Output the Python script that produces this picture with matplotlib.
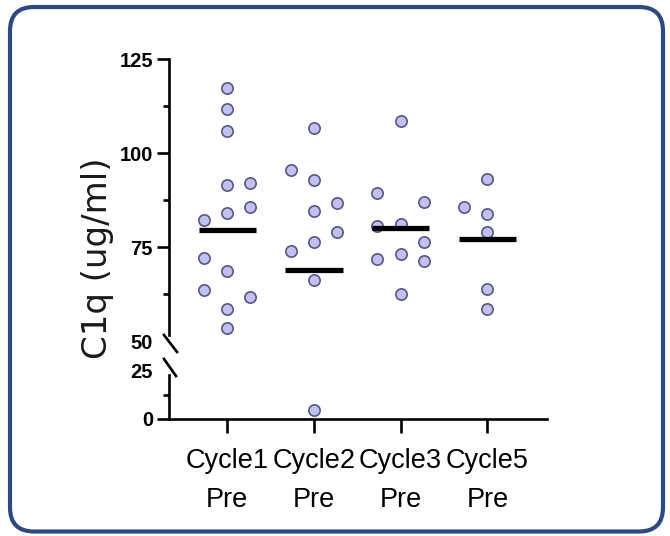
import matplotlib
matplotlib.use("Agg")
import matplotlib.pyplot as plt
import numpy as np
from matplotlib.patches import FancyBboxPatch
from matplotlib.lines import Line2D
from matplotlib.transforms import IdentityTransform

# ---------------- data ----------------
categories = ["Cycle1\nPre", "Cycle2\nPre", "Cycle3\nPre", "Cycle5\nPre"]

cycle1_values = [117.4, 111.7, 105.9, 91.6, 92.0, 85.8, 84.0, 82.3, 72.1, 68.7, 63.6, 61.9, 58.5, 53.5]
cycle1_cols = [0, 0, 0, 0, 1, 1, 0, -1, -1, 0, -1, 1, 0, 0]

cycle2_values = [106.8, 95.6, 92.9, 86.7, 84.7, 79.1, 76.3, 74.1, 66.3, 4.5]
cycle2_cols = [0, -1, 0, 1, 0, 1, 0, -1, 0, 0]

cycle3_values = [108.7, 89.4, 87.0, 80.7, 81.2, 76.3, 71.9, 73.2, 71.4, 62.6]
cycle3_cols = [0, -1, 1, -1, 0, 1, -1, 0, 1, 0]

cycle5_values = [93.2, 85.8, 83.9, 79.0, 63.8, 58.5]
cycle5_cols = [0, -1, 0, 0, 0, 0]

center_lines = [79.6, 69.0, 80.2, 77.2]

upper_ticks = [50, 75, 100, 125]
upper_minor = [62.5, 87.5, 112.5]
lower_ticks = [0, 25]
lower_minor = [12.5]
ylabel = "C1q (ug/ml)"

groups_values = [cycle1_values, cycle2_values, cycle3_values, cycle5_values]
groups_cols = [cycle1_cols, cycle2_cols, cycle3_cols, cycle5_cols]

# ---------------- layout ----------------
W, H = 670, 536
fig = plt.figure(figsize=(W / 100, H / 100), dpi=100)
fig.patch.set_facecolor("white")

tick_font = "Liberation Sans"
jitter = 0.268
half_w = 0.33
face = "#c2c0f2"
edge = "#56577e"

x_left, x_right = 169, 547.3
ax_top = fig.add_axes([x_left / W, 1 - 341.3 / H, (x_right - x_left) / W, (341.3 - 59.3) / H])
ax_bot = fig.add_axes([x_left / W, 1 - 419 / H, (x_right - x_left) / W, (419 - 370) / H], sharex=ax_top)

ax_top.set_ylim(50, 125)
ax_bot.set_ylim(0, 25)
ax_top.set_xlim(-0.67, 3.69)

for ax in (ax_top, ax_bot):
    ax.set_facecolor("none")
    for s in ("top", "right"):
        ax.spines[s].set_visible(False)
    for s in ("left", "bottom"):
        ax.spines[s].set_linewidth(1.9)
        ax.spines[s].set_color("black")

ax_top.spines["bottom"].set_visible(False)
ax_top.spines["left"].set_bounds(51.7, 125)
ax_bot.spines["left"].set_bounds(0, 22.5)

# points
for i, (vals, cols) in enumerate(zip(groups_values, groups_cols)):
    vals = np.asarray(vals, dtype=float)
    xs = i + np.asarray(cols) * jitter
    up = vals >= 50
    ax_top.scatter(xs[up], vals[up], s=66, facecolor=face, edgecolor=edge,
                   linewidth=1.2, zorder=3, clip_on=False)
    if (~up).any():
        ax_bot.scatter(xs[~up], vals[~up], s=66, facecolor=face, edgecolor=edge,
                       linewidth=1.2, zorder=3, clip_on=False)

xpos = np.arange(len(categories))
ax_top.hlines(center_lines, xpos - half_w, xpos + half_w, colors="black",
              linewidth=3.8, zorder=4)

# y ticks
ax_top.set_yticks(upper_ticks)
ax_top.set_yticks(upper_minor, minor=True)
ax_bot.set_yticks(lower_ticks)
ax_bot.set_yticks(lower_minor, minor=True)
for ax in (ax_top, ax_bot):
    ax.tick_params(axis="y", which="major", length=8.5, width=1.9, pad=3,
                   labelsize=14.5)
    ax.tick_params(axis="y", which="minor", length=4.5, width=1.9)
    for lab in ax.get_yticklabels():
        lab.set_fontfamily(tick_font)
        lab.set_fontweight("bold")
ax_top.yaxis.get_major_ticks()[0].tick1line.set_visible(False)
ax_bot.yaxis.get_major_ticks()[1].tick1line.set_visible(False)

# x ticks
ax_top.tick_params(axis="x", which="both", bottom=False, labelbottom=False)
ax_bot.set_xticks(xpos)
ax_bot.set_xticklabels(categories, fontsize=19.5, fontfamily=tick_font,
                       linespacing=1.65)
ax_bot.tick_params(axis="x", length=10, width=1.9, pad=11)

# break marks
for (x0, y0, x1, y1) in [(164, 335, 177, 352), (164, 359, 176, 376)]:
    fig.add_artist(Line2D([x0 / W, x1 / W], [1 - y0 / H, 1 - y1 / H],
                          transform=fig.transFigure, color="black", linewidth=1.9))

# y label
fig.text(97 / W, 1 - 258 / H, ylabel, rotation=90, ha="center", va="center",
         fontsize=24.5, fontfamily="DejaVu Sans", color="#1a1a1a")

# rounded border
border = FancyBboxPatch((10, H - 531.5), 653, 524.5,
                        boxstyle="round,pad=0,rounding_size=24",
                        transform=IdentityTransform(), facecolor="none",
                        edgecolor="#2c4a80", linewidth=3.0)
fig.add_artist(border)

fig.savefig("out.png", dpi=100)
